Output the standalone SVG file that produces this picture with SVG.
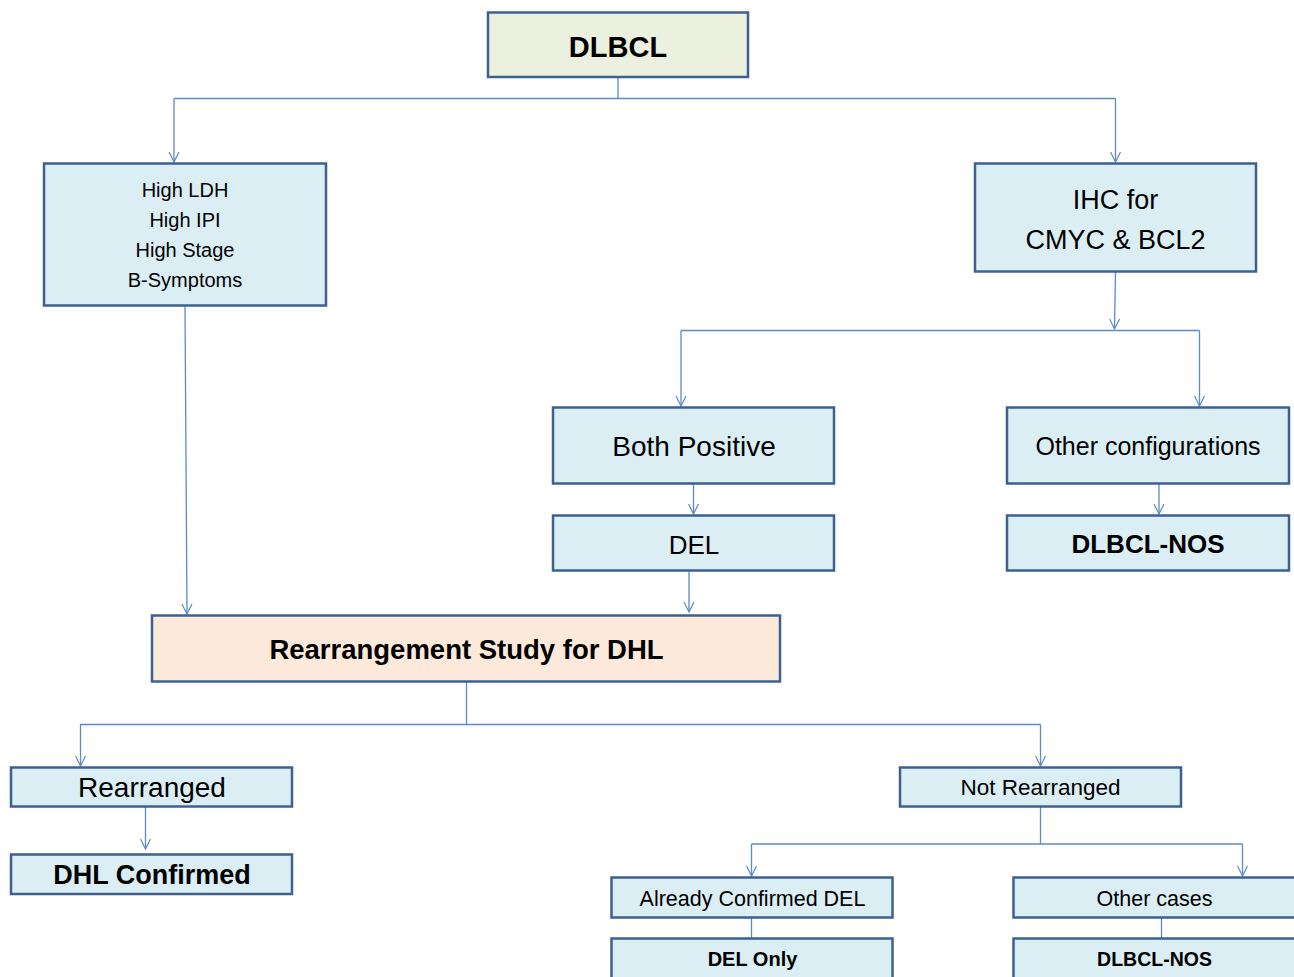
<svg xmlns="http://www.w3.org/2000/svg" width="1294" height="977" viewBox="0 0 1294 977">
<style>
.box{fill:#dbeef4;stroke:#3c6191;stroke-width:2.5}
.t{font-family:"Liberation Sans",Arial,sans-serif;fill:#000;text-anchor:middle}
.b{font-weight:bold}
.c{fill:none;stroke:#5b8ac6;stroke-width:1.3}
</style>
<defs>
<marker id="a" markerWidth="12" markerHeight="12" refX="11" refY="6" orient="auto" markerUnits="userSpaceOnUse" viewBox="0 0 12 12">
<path d="M1,1 L11,6 L1,11" fill="none" stroke="#5b8ac6" stroke-width="1.2"/>
</marker>
</defs>
<rect width="1294" height="977" fill="#fff"/>
<g id="connectors">
<path class="c" d="M618,77 V98.5"/>
<path class="c" d="M174,98.5 H1115.5"/>
<path class="c" d="M174,98.5 V162" marker-end="url(#a)"/>
<path class="c" d="M1115.5,98.5 V162" marker-end="url(#a)"/>
<path class="c" d="M185,306 L187,614" marker-end="url(#a)"/>
<path class="c" d="M1115.5,272 L1114.5,329" marker-end="url(#a)"/>
<path class="c" d="M681,330.5 H1199.5"/>
<path class="c" d="M681,330.5 V406" marker-end="url(#a)"/>
<path class="c" d="M1199.5,330.5 V406" marker-end="url(#a)"/>
<path class="c" d="M693.5,484 V514" marker-end="url(#a)"/>
<path class="c" d="M1159,484 V514" marker-end="url(#a)"/>
<path class="c" d="M689,571 V612" marker-end="url(#a)"/>
<path class="c" d="M466.5,682 V724.5"/>
<path class="c" d="M80,724.5 H1040.5"/>
<path class="c" d="M80.5,724.5 V766" marker-end="url(#a)"/>
<path class="c" d="M1040.5,724.5 V766" marker-end="url(#a)"/>
<path class="c" d="M145.5,807 V849" marker-end="url(#a)"/>
<path class="c" d="M1040.5,807 V844"/>
<path class="c" d="M751.5,844 H1242.5"/>
<path class="c" d="M751.5,844 V876" marker-end="url(#a)"/>
<path class="c" d="M1242.5,844 V876" marker-end="url(#a)"/>
<path class="c" d="M751.5,918 V938"/>
<path class="c" d="M1161.5,918 V938"/>
</g>
<g id="n-dlbcl">
<rect x="488" y="12.5" width="260" height="64.5" fill="#ebf1de" stroke="#3c6191" stroke-width="2.5"/>
<text class="t b" x="618" y="57" font-size="29">DLBCL</text>
</g>
<g id="n-risk">
<rect class="box" x="44" y="163.5" width="282" height="142"/>
<text class="t" x="185" y="197" font-size="20">High LDH</text>
<text class="t" x="185" y="227" font-size="20">High IPI</text>
<text class="t" x="185" y="257" font-size="20">High Stage</text>
<text class="t" x="185" y="287" font-size="20">B-Symptoms</text>
</g>
<g id="n-ihc">
<rect class="box" x="975" y="163.5" width="281" height="108"/>
<text class="t" x="1115.5" y="209" font-size="27">IHC for</text>
<text class="t" x="1115.5" y="249" font-size="27">CMYC &amp; BCL2</text>
</g>
<g id="n-both">
<rect class="box" x="553" y="407.5" width="281" height="76"/>
<text class="t" x="694" y="456" font-size="28">Both Positive</text>
</g>
<g id="n-other">
<rect class="box" x="1007" y="407.5" width="282" height="76"/>
<text class="t" x="1148" y="455" font-size="25">Other configurations</text>
</g>
<g id="n-del">
<rect class="box" x="553" y="515.5" width="281" height="55"/>
<text class="t" x="694" y="554" font-size="26">DEL</text>
</g>
<g id="n-nos1">
<rect class="box" x="1007" y="515.5" width="282" height="55"/>
<text class="t b" x="1148" y="553" font-size="26">DLBCL-NOS</text>
</g>
<g id="n-rearr-study">
<rect x="152" y="615.5" width="628" height="66" fill="#fde9d9" stroke="#3c6191" stroke-width="2.5"/>
<text class="t b" x="466.5" y="659" font-size="27.5">Rearrangement Study for DHL</text>
</g>
<g id="n-rearranged">
<rect class="box" x="11" y="767.5" width="281" height="39"/>
<text class="t" x="152" y="797" font-size="28">Rearranged</text>
</g>
<g id="n-dhl">
<rect class="box" x="11" y="854.5" width="281" height="39.5"/>
<text class="t b" x="152" y="884" font-size="27">DHL Confirmed</text>
</g>
<g id="n-notrearr">
<rect class="box" x="900" y="767.5" width="281" height="39"/>
<text class="t" x="1040.5" y="795" font-size="22.5">Not Rearranged</text>
</g>
<g id="n-already">
<rect class="box" x="611.5" y="877.5" width="281" height="40"/>
<text class="t" x="752.5" y="906" font-size="21.5">Already Confirmed DEL</text>
</g>
<g id="n-othercases">
<rect class="box" x="1013.5" y="877.5" width="282" height="40"/>
<text class="t" x="1154.5" y="906" font-size="21.5">Other cases</text>
</g>
<g id="n-delonly">
<rect class="box" x="611.5" y="938.5" width="281" height="45"/>
<text class="t b" x="752.5" y="966" font-size="20">DEL Only</text>
</g>
<g id="n-nos2">
<rect class="box" x="1013.5" y="938.5" width="282" height="45"/>
<text class="t b" x="1154.5" y="966" font-size="19.5">DLBCL-NOS</text>
</g>
</svg>
